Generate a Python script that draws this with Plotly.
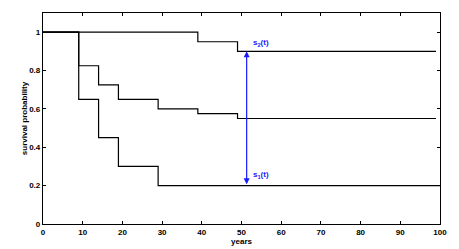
import plotly.graph_objects as go

# Step-change times and survival values
s2_t = [0, 39, 49, 99]
s2_v = [1.0, 0.95, 0.90, 0.90]

mid_t = [0, 9, 14, 19, 29, 39, 49, 99]
mid_v = [1.0, 0.825, 0.725, 0.65, 0.60, 0.575, 0.55, 0.55]

s1_t = [0, 9, 14, 19, 29, 100]
s1_v = [1.0, 0.65, 0.45, 0.30, 0.20, 0.20]

arrow_t = 51.3
x_ticks = [0, 10, 20, 30, 40, 50, 60, 70, 80, 90, 100]
y_ticks = [0, 0.2, 0.4, 0.6, 0.8, 1]
y_tick_labels = ["0", "0.2", "0.4", "0.6", "0.8", "1"]

fig = go.Figure()
for t, v in [(s2_t, s2_v), (mid_t, mid_v), (s1_t, s1_v)]:
    fig.add_trace(go.Scatter(x=t, y=v, mode="lines", line_shape="hv",
                             line=dict(color="black", width=1.2),
                             showlegend=False, hoverinfo="skip"))

blue = "#1a1aff"
fig.add_annotation(x=arrow_t, y=s2_v[-1], ax=arrow_t, ay=s1_v[-1],
                   xref="x", yref="y", axref="x", ayref="y", text="",
                   showarrow=True, arrowhead=2, startarrowhead=2,
                   arrowside="end+start", arrowsize=1, arrowwidth=1.2,
                   arrowcolor=blue, standoff=0, startstandoff=0)
fig.add_annotation(x=arrow_t + 3.5, y=s2_v[-1] + 0.045, xref="x", yref="y",
                   text="s<sub>2</sub>(t)", showarrow=False, xanchor="center",
                   font=dict(family="Liberation Sans", size=8, color=blue, weight="bold"))
fig.add_annotation(x=arrow_t + 3.5, y=s1_v[-1] + 0.055, xref="x", yref="y",
                   text="s<sub>1</sub>(t)", showarrow=False, xanchor="center",
                   font=dict(family="Liberation Sans", size=8, color=blue, weight="bold"))

tickfont = dict(family="Liberation Sans", size=8, color="black", weight="bold")
fig.update_xaxes(range=[0, 100], tickvals=x_ticks, ticks="inside", ticklen=3,
                 tickcolor="black", showline=True, linecolor="black", linewidth=1.2,
                 mirror="ticks", showgrid=False, zeroline=False, tickfont=tickfont,
                 automargin=False,
                 title=dict(text="years", font=tickfont, standoff=0))
fig.update_yaxes(range=[0, 1.1], tickvals=y_ticks, ticktext=y_tick_labels,
                 ticks="inside", ticklen=3,
                 tickcolor="black", showline=True, linecolor="black", linewidth=1.2,
                 mirror="ticks", showgrid=False, zeroline=False, tickfont=tickfont,
                 automargin=False,
                 title=dict(text="survival probability", font=tickfont, standoff=0))
fig.update_layout(width=459, height=249, margin=dict(l=43, r=19, t=13, b=25),
                  paper_bgcolor="white", plot_bgcolor="white")
fig.write_html("out.html", config={"displayModeBar": False},
               post_script="document.body.style.margin='0';document.body.style.padding='0';")
